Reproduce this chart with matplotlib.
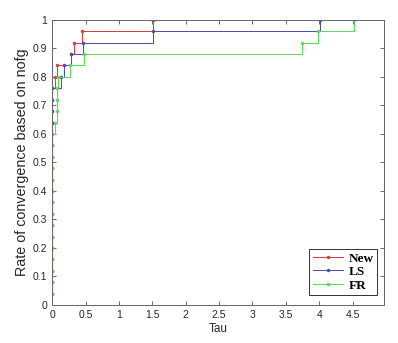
import matplotlib
matplotlib.use("Agg")
import matplotlib.pyplot as plt

# performance profile data (25 problems)
rates = [0.04, 0.08, 0.12, 0.16, 0.20, 0.24, 0.28, 0.32, 0.36, 0.40,
         0.44, 0.48, 0.52, 0.56, 0.60, 0.64, 0.68, 0.72, 0.76, 0.80,
         0.84, 0.88, 0.92, 0.96, 1.00]
tau_new = [0, 0, 0, 0, 0, 0, 0, 0, 0, 0, 0, 0, 0, 0, 0, 0, 0, 0, 0,
           0.04, 0.07, 0.28, 0.33, 0.44, 1.51]
tau_ls = [0, 0, 0, 0, 0, 0, 0, 0, 0, 0, 0, 0, 0, 0, 0, 0, 0, 0, 0,
          0.14, 0.18, 0.28, 0.46, 1.51, 4.01]
tau_fr = [0, 0, 0, 0, 0, 0, 0, 0, 0, 0, 0, 0, 0, 0, 0,
          0.05, 0.07, 0.07, 0.08, 0.09, 0.26, 0.47, 3.74, 3.98, 4.52]

labels = ["New", "LS", "FR"]
colors = ["#cc4444", "#5050a8", "#5ed85e"]

x_ticks = [0, 0.5, 1, 1.5, 2, 2.5, 3, 3.5, 4, 4.5]
x_ticklabels = ["0", "0.5", "1", "1.5", "2", "2.5", "3", "3.5", "4", "4.5"]
y_ticks = [0, 0.1, 0.2, 0.3, 0.4, 0.5, 0.6, 0.7, 0.8, 0.9, 1]
y_ticklabels = ["0", "0.1", "0.2", "0.3", "0.4", "0.5", "0.6", "0.7", "0.8", "0.9", "1"]

plt.rcParams['font.family'] = ['Liberation Sans', 'DejaVu Sans']

fig = plt.figure(figsize=(3.98, 3.43), dpi=100)
ax = fig.add_axes([0.131, 0.111, 0.834, 0.831])

for taus, lab, col in zip([tau_new, tau_ls, tau_fr], labels, colors):
    ax.step(taus, rates, where='post', color=col, linewidth=0.75,
            marker='.', markersize=3, label=lab)

ax.set_xlim(0, 4.97)
ax.set_ylim(0, 1)
ax.set_xticks(x_ticks)
ax.set_xticklabels(x_ticklabels)
ax.set_yticks(y_ticks)
ax.set_yticklabels(y_ticklabels)
ax.tick_params(direction='in', length=3, width=0.6, color='#555555',
               labelsize=7.5, labelcolor='#262626', top=True, right=True)
for sp in ax.spines.values():
    sp.set_color('#666666')
    sp.set_linewidth(0.7)

ax.set_xlabel("Tau", fontsize=8.5, color='#262626', labelpad=2)
ax.set_ylabel("Rate of convergence based on nofg", fontsize=10.3, color='#262626', labelpad=3)

leg = ax.legend(loc='lower right', bbox_to_anchor=(0.98, 0.035), numpoints=1,
                prop={'family': 'Liberation Serif', 'weight': 'bold', 'size': 9.5},
                frameon=True, fancybox=False, edgecolor='black', borderpad=0.25,
                labelspacing=0.1, handlelength=2.3, handletextpad=0.45, borderaxespad=0)
leg.get_frame().set_linewidth(0.7)

fig.savefig("out.png", dpi=100)
